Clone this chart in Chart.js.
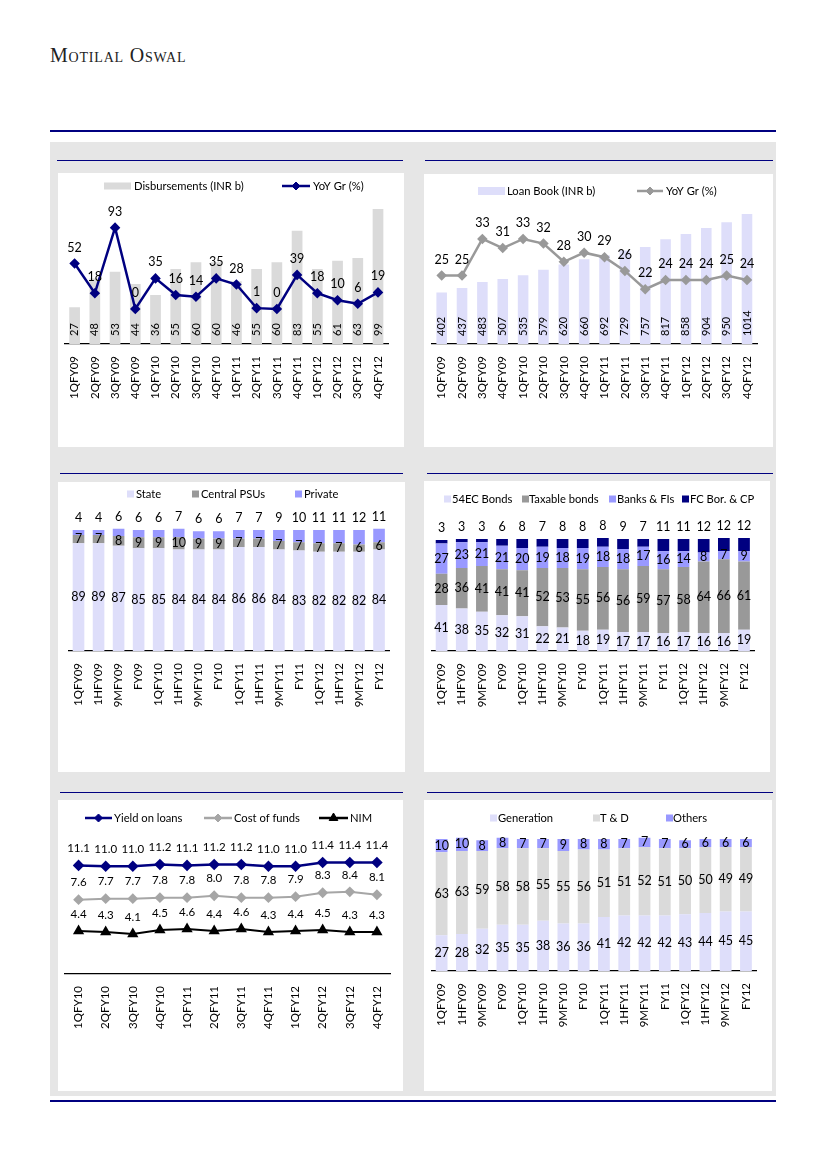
<!DOCTYPE html>
<html>
<head>
<meta charset="utf-8">
<script src="https://cdn.jsdelivr.net/npm/chart.js@4.4.0/dist/chart.umd.min.js"></script>
<style>
  body { margin: 0; background: #fff; width: 826px; height: 1169px; position: relative; overflow: hidden; }
  .abs { position: absolute; }
  .brand { left: 50px; top: 44px; font-family: "Liberation Serif", serif; font-variant: small-caps; font-size: 20px; letter-spacing: 0.8px; color: #222; }
  .rule { background: #000080; }
  .sheet { left: 50px; top: 142px; width: 726px; height: 954px; background: #e6e6e6; }
  .box { background: #fff; }
</style>
</head>
<body>
<div class="abs brand">Motilal Oswal</div>
<div class="abs rule" style="left:50px;top:130px;width:726px;height:1.5px"></div>
<div class="abs sheet"></div>

<div class="abs rule" style="left:57px;top:160px;width:346px;height:1px"></div>
<div class="abs rule" style="left:425px;top:160px;width:348px;height:1px"></div>
<div class="abs rule" style="left:60px;top:473px;width:343px;height:1px"></div>
<div class="abs rule" style="left:427px;top:473px;width:346px;height:1px"></div>
<div class="abs rule" style="left:60px;top:792px;width:343px;height:1px"></div>
<div class="abs rule" style="left:427px;top:792px;width:346px;height:1px"></div>
<div class="abs rule" style="left:50px;top:1100px;width:726px;height:2px"></div>

<div class="abs box" style="left:58px;top:173px;width:346px;height:274px"><canvas id="disbChart"></canvas></div>
<div class="abs box" style="left:424px;top:174px;width:349px;height:273px"><canvas id="loanChart"></canvas></div>
<div class="abs box" style="left:58px;top:482px;width:347px;height:290px"><canvas id="ownerChart"></canvas></div>
<div class="abs box" style="left:424px;top:481px;width:346px;height:291px"><canvas id="fundChart"></canvas></div>
<div class="abs box" style="left:58px;top:800px;width:345px;height:291px"><canvas id="spreadChart"></canvas></div>
<div class="abs box" style="left:424px;top:800px;width:348px;height:291px"><canvas id="segmentChart"></canvas></div>

<script>
// ---- data ----
const quarters = ['1QFY09', '2QFY09', '3QFY09', '4QFY09', '1QFY10', '2QFY10', '3QFY10', '4QFY10',
  '1QFY11', '2QFY11', '3QFY11', '4QFY11', '1QFY12', '2QFY12', '3QFY12', '4QFY12'];
const disbursements = [27, 48, 53, 44, 36, 55, 60, 60, 46, 55, 60, 83, 55, 61, 63, 99];
const disbGrowth = [52, 18, 93, 0, 35, 16, 14, 35, 28, 1, 0, 39, 18, 10, 6, 19];

const loanBook = [402, 437, 483, 507, 535, 579, 620, 660, 692, 729, 757, 817, 858, 904, 950, 1014];
const loanGrowth = [25, 25, 33, 31, 33, 32, 28, 30, 29, 26, 22, 24, 24, 24, 25, 24];

const periods = ['1QFY09', '1HFY09', '9MFY09', 'FY09', '1QFY10', '1HFY10', '9MFY10', 'FY10',
  '1QFY11', '1HFY11', '9MFY11', 'FY11', '1QFY12', '1HFY12', '9MFY12', 'FY12'];
const stateShare = [89, 89, 87, 85, 85, 84, 84, 84, 86, 86, 84, 83, 82, 82, 82, 84];
const centralShare = [7, 7, 8, 9, 9, 10, 9, 9, 7, 7, 7, 7, 7, 7, 6, 6];
const privateShare = [4, 4, 6, 6, 6, 7, 6, 6, 7, 7, 9, 10, 11, 11, 12, 11];

const ecBonds = [41, 38, 35, 32, 31, 22, 21, 18, 19, 17, 17, 16, 17, 16, 16, 19];
const taxableBonds = [28, 36, 41, 41, 41, 52, 53, 55, 56, 56, 59, 57, 58, 64, 66, 61];
const banksFis = [27, 23, 21, 21, 20, 19, 18, 19, 18, 18, 17, 16, 14, 8, 7, 9];
const fcBorrowing = [3, 3, 3, 6, 8, 7, 8, 8, 8, 9, 7, 11, 11, 12, 12, 12];

const recentQuarters = ['1QFY10', '2QFY10', '3QFY10', '4QFY10', '1QFY11', '2QFY11',
  '3QFY11', '4QFY11', '1QFY12', '2QFY12', '3QFY12', '4QFY12'];
const yieldOnLoans = [11.1, 11.0, 11.0, 11.2, 11.1, 11.2, 11.2, 11.0, 11.0, 11.4, 11.4, 11.4];
const costOfFunds = [7.6, 7.7, 7.7, 7.8, 7.8, 8.0, 7.8, 7.8, 7.9, 8.3, 8.4, 8.1];
const nim = [4.4, 4.3, 4.1, 4.5, 4.6, 4.4, 4.6, 4.3, 4.4, 4.5, 4.3, 4.3];

const generation = [27, 28, 32, 35, 35, 38, 36, 36, 41, 42, 42, 42, 43, 44, 45, 45];
const tnd = [63, 63, 59, 58, 58, 55, 55, 56, 51, 51, 52, 51, 50, 50, 49, 49];
const others = [10, 10, 8, 8, 7, 7, 9, 8, 8, 7, 7, 7, 6, 6, 6, 6];

const NAVY = '#000080';
const LAVENDER = '#dedefa';
const GREY = '#999999';
const LIGHTGREY = '#dadada';
const PERIWINKLE = '#9999ff';
const TICK_SIZE = 11.5;
const LEGEND_SIZE = 11.2;

Chart.defaults.font.family = 'Lato, sans-serif';
Chart.defaults.color = '#000';

// value labels drawn next to bars / points
const valueLabels = {
  id: 'valueLabels',
  afterDatasetsDraw(chart) {
    const ctx = chart.ctx;
    chart.data.datasets.forEach((ds, i) => {
      const cfg = ds.valueLabels;
      if (!cfg) return;
      const meta = chart.getDatasetMeta(i);
      meta.data.forEach((el, j) => {
        const v = ds.data[j];
        const text = cfg.digits ? v.toFixed(cfg.digits) : String(v);
        let y;
        if (cfg.pos === 'center') y = (el.y + el.base) / 2;
        else if (cfg.pos === 'base') y = el.base - cfg.offset;
        else y = el.y - cfg.offset;
        ctx.save();
        ctx.translate(el.x, y);
        ctx.font = (cfg.size || 12) + 'px Lato';
        ctx.fillStyle = cfg.color || '#000';
        ctx.textBaseline = 'middle';
        if (cfg.rotate) {
          ctx.rotate(-Math.PI / 2);
          ctx.textAlign = 'left';
        } else {
          ctx.textAlign = 'center';
        }
        ctx.fillText(text, 0, 0);
        ctx.restore();
      });
    });
  }
};

// legend drawn at fixed spots like the original
const boxLegend = {
  id: 'boxLegend',
  afterDraw(chart, args, opts) {
    if (!opts || !opts.items) return;
    const ctx = chart.ctx;
    const y = opts.y;
    ctx.save();
    ctx.font = LEGEND_SIZE + 'px Lato';
    ctx.textBaseline = 'middle';
    opts.items.forEach(it => {
      if (it.kind === 'box') {
        ctx.fillStyle = it.color;
        ctx.fillRect(it.x, y - it.h / 2, it.w, it.h);
      } else {
        ctx.strokeStyle = it.color;
        ctx.lineWidth = 2.5;
        ctx.beginPath();
        ctx.moveTo(it.x, y);
        ctx.lineTo(it.x2, y);
        ctx.stroke();
        ctx.fillStyle = it.color;
        ctx.lineWidth = 1;
        Chart.helpers.drawPoint(ctx, { pointStyle: it.marker, radius: it.r || 4, rotation: 0, borderWidth: 1 }, (it.x + it.x2) / 2, y);
      }
      ctx.fillStyle = '#000';
      ctx.textAlign = 'left';
      ctx.fillText(it.text, it.tx, y + 0.5);
    });
    ctx.restore();
  }
};

Chart.register(valueLabels, boxLegend);

function xAxis() {
  return {
    offset: true,
    grid: { display: false, drawTicks: false },
    border: { display: true, color: '#000', width: 1.2 },
    ticks: { autoSkip: false, minRotation: 90, maxRotation: 90, padding: 12, color: '#000', font: { size: TICK_SIZE } },
    afterFit(scale) { scale.height = 60; }
  };
}

function baseOptions(padding, legend) {
  return {
    responsive: true,
    maintainAspectRatio: false,
    animation: false,
    layout: { padding: padding },
    plugins: { legend: { display: false }, tooltip: { enabled: false }, boxLegend: legend },
    scales: {}
  };
}

// Disbursements
const disbOpts = baseOptions({ left: 6.5, right: 4.5, top: 31, bottom: 43 }, {
  y: 13,
  items: [
    { kind: 'box', x: 46, w: 27, h: 7, color: LIGHTGREY, text: 'Disbursements (INR b)', tx: 76 },
    { kind: 'line', x: 224, x2: 252, color: NAVY, marker: 'rectRot', text: 'YoY Gr (%)', tx: 255 }
  ]
});
disbOpts.scales = {
  x: xAxis(),
  y: { display: false, min: 0, max: 102.7 },
  y1: { display: false, min: -40, max: 120 }
};
new Chart(document.getElementById('disbChart'), {
  data: {
    labels: quarters,
    datasets: [
      { type: 'line', label: 'YoY Gr (%)', data: disbGrowth, yAxisID: 'y1', order: 0,
        borderColor: NAVY, borderWidth: 2.5, tension: 0, pointStyle: 'rectRot', pointRadius: 3.5,
        pointBackgroundColor: NAVY, pointBorderColor: NAVY, clip: false,
        valueLabels: { pos: 'above', offset: 16, size: 12.5 } },
      { type: 'bar', label: 'Disbursements (INR b)', data: disbursements, yAxisID: 'y', order: 1,
        backgroundColor: LIGHTGREY, categoryPercentage: 1, barPercentage: 0.53,
        valueLabels: { pos: 'base', offset: 8, rotate: true, size: 11 } }
    ]
  },
  options: disbOpts
});

// Loan book
const loanOpts = baseOptions({ left: 7.5, right: 5.5, top: 33, bottom: 43 }, {
  y: 17,
  items: [
    { kind: 'box', x: 54, w: 27, h: 8, color: LAVENDER, text: 'Loan Book (INR b)', tx: 83 },
    { kind: 'line', x: 213, x2: 239, color: GREY, marker: 'rectRot', text: 'YoY Gr (%)', tx: 242 }
  ]
});
loanOpts.scales = {
  x: xAxis(),
  y: { display: false, min: 0, max: 1068 },
  y1: { display: false, min: 10, max: 40 }
};
new Chart(document.getElementById('loanChart'), {
  data: {
    labels: quarters,
    datasets: [
      { type: 'line', label: 'YoY Gr (%)', data: loanGrowth, yAxisID: 'y1', order: 0,
        borderColor: GREY, borderWidth: 2.5, tension: 0, pointStyle: 'rectRot', pointRadius: 3.5,
        pointBackgroundColor: GREY, pointBorderColor: GREY, clip: false,
        valueLabels: { pos: 'above', offset: 16, size: 12.5 } },
      { type: 'bar', label: 'Loan Book (INR b)', data: loanBook, yAxisID: 'y', order: 1,
        backgroundColor: LAVENDER, categoryPercentage: 1, barPercentage: 0.52,
        valueLabels: { pos: 'base', offset: 8, rotate: true, size: 11 } }
    ]
  },
  options: loanOpts
});

// stacked share charts
function stackedBar(id, labels, series, padding, legend, max) {
  const opts = baseOptions(padding, legend);
  opts.scales = {
    x: Object.assign(xAxis(), { stacked: true }),
    y: { display: false, stacked: true, min: 0, max: max }
  };
  new Chart(document.getElementById(id), {
    type: 'bar',
    data: {
      labels: labels,
      datasets: series.map(s => ({
        label: s.label, data: s.data, backgroundColor: s.color,
        categoryPercentage: 1, barPercentage: 0.58,
        valueLabels: { pos: s.pos, offset: 12, size: 12.5 }
      }))
    },
    options: opts
  });
}

stackedBar('ownerChart', periods, [
  { label: 'State', data: stateShare, color: LAVENDER, pos: 'center' },
  { label: 'Central PSUs', data: centralShare, color: GREY, pos: 'center' },
  { label: 'Private', data: privateShare, color: PERIWINKLE, pos: 'above' }
], { left: 10.5, right: 5, top: 42, bottom: 61 }, {
  y: 12,
  items: [
    { kind: 'box', x: 69, w: 7, h: 7, color: LAVENDER, text: 'State', tx: 78 },
    { kind: 'box', x: 134, w: 7, h: 7, color: GREY, text: 'Central PSUs', tx: 143 },
    { kind: 'box', x: 237, w: 7, h: 7, color: PERIWINKLE, text: 'Private', tx: 246 }
  ]
}, 105);

stackedBar('fundChart', periods, [
  { label: '54EC Bonds', data: ecBonds, color: LAVENDER, pos: 'center' },
  { label: 'Taxable bonds', data: taxableBonds, color: GREY, pos: 'center' },
  { label: 'Banks & FIs', data: banksFis, color: PERIWINKLE, pos: 'center' },
  { label: 'FC Bor. & CP', data: fcBorrowing, color: NAVY, pos: 'above' }
], { left: 7.5, right: 6, top: 52.4, bottom: 61 }, {
  y: 18,
  items: [
    { kind: 'box', x: 20, w: 7, h: 7, color: LAVENDER, text: '54EC Bonds', tx: 28 },
    { kind: 'box', x: 98, w: 7, h: 7, color: GREY, text: 'Taxable bonds', tx: 105 },
    { kind: 'box', x: 185, w: 7, h: 7, color: PERIWINKLE, text: 'Banks & FIs', tx: 193 },
    { kind: 'box', x: 258, w: 7, h: 7, color: NAVY, text: 'FC Bor. & CP', tx: 266 }
  ]
}, 105);

stackedBar('segmentChart', periods, [
  { label: 'Generation', data: generation, color: LAVENDER, pos: 'center' },
  { label: 'T & D', data: tnd, color: LIGHTGREY, pos: 'center' },
  { label: 'Others', data: others, color: PERIWINKLE, pos: 'center' }
], { left: 7.5, right: 8, top: 32.4, bottom: 60 }, {
  y: 18,
  items: [
    { kind: 'box', x: 66, w: 7, h: 7, color: LAVENDER, text: 'Generation', tx: 74 },
    { kind: 'box', x: 169, w: 7, h: 7, color: LIGHTGREY, text: 'T & D', tx: 176 },
    { kind: 'box', x: 242, w: 7, h: 7, color: PERIWINKLE, text: 'Others', tx: 249 }
  ]
}, 105);

// Yield / cost / NIM
const spreadOpts = baseOptions({ left: 7, right: 5, top: 37, bottom: 57 }, {
  y: 18,
  items: [
    { kind: 'line', x: 27, x2: 54, color: NAVY, marker: 'rectRot', text: 'Yield on loans', tx: 56 },
    { kind: 'line', x: 146, x2: 174, color: '#a6a6a6', marker: 'rectRot', text: 'Cost of funds', tx: 176 },
    { kind: 'line', x: 261, x2: 290, color: '#000', marker: 'triangle', r: 5, text: 'NIM', tx: 292 }
  ]
});
spreadOpts.scales = {
  x: xAxis(),
  y: { display: false, min: 0, max: 14 }
};
new Chart(document.getElementById('spreadChart'), {
  type: 'line',
  data: {
    labels: recentQuarters,
    datasets: [
      { label: 'Yield on loans', data: yieldOnLoans, borderColor: NAVY, borderWidth: 2.5, tension: 0,
        pointStyle: 'rectRot', pointRadius: 4, pointBackgroundColor: NAVY, pointBorderColor: NAVY, clip: false,
        valueLabels: { pos: 'above', offset: 17, size: 11.5, digits: 1 } },
      { label: 'Cost of funds', data: costOfFunds, borderColor: '#a6a6a6', borderWidth: 2, tension: 0,
        pointStyle: 'rectRot', pointRadius: 4, pointBackgroundColor: '#a6a6a6', pointBorderColor: '#a6a6a6', clip: false,
        valueLabels: { pos: 'above', offset: 17, size: 11.5, digits: 1 } },
      { label: 'NIM', data: nim, borderColor: '#000', borderWidth: 2, tension: 0,
        pointStyle: 'triangle', pointRadius: 4.5, pointBackgroundColor: '#000', pointBorderColor: '#000', clip: false,
        valueLabels: { pos: 'above', offset: 17, size: 11.5, digits: 1 } }
    ]
  },
  options: spreadOpts
});
</script>
</body>
</html>
